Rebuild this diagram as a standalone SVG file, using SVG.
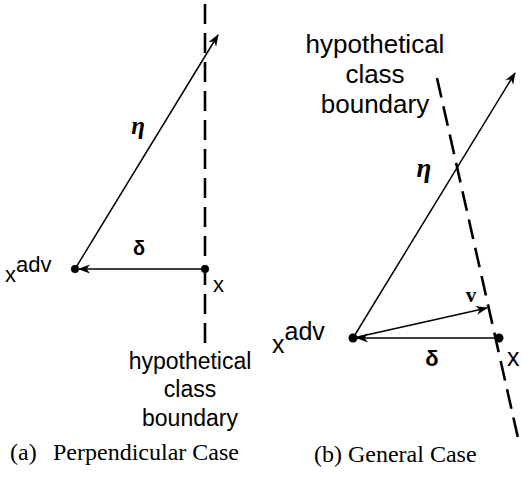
<svg xmlns="http://www.w3.org/2000/svg" width="522" height="483" viewBox="0 0 522 483">
<style>
.sans{font-family:"Liberation Sans",Arial,sans-serif;fill:#000}
.serif{font-family:"Liberation Serif","Times New Roman",serif;fill:#000}
.vec{stroke:#000;stroke-width:1.5;fill:none;marker-end:url(#ah)}
.dash{stroke:#000;stroke-width:2.6;fill:none;stroke-dasharray:20 9}
.dot{fill:#000}
</style>
<defs>
<marker id="ah" viewBox="0 0 12 10" refX="11" refY="5" markerWidth="12" markerHeight="10" markerUnits="userSpaceOnUse" orient="auto">
<path d="M0,0.5 L12,5 L0,9.5 L3.5,5 Z" fill="#000"/>
</marker>
</defs>
<g id="connectors">
<line class="dash" x1="205" y1="4" x2="205" y2="343"/>
<line class="vec" x1="75" y1="269" x2="218" y2="35"/>
<line class="vec" x1="205" y1="269" x2="79" y2="269"/>
<line class="dash" x1="437" y1="78" x2="518" y2="438"/>
<line class="vec" x1="353" y1="338" x2="515" y2="73"/>
<line class="vec" x1="353" y1="338" x2="487" y2="308"/>
<line class="vec" x1="499" y1="338" x2="357" y2="338"/>
</g>
<g id="node-a-xadv">
<circle class="dot" cx="75" cy="269" r="4"/>
<text class="sans" x="5" y="282" font-size="22">x<tspan dy="-10">adv</tspan></text>
</g>
<g id="node-a-x">
<circle class="dot" cx="205" cy="269" r="4"/>
<text class="sans" x="213" y="292" font-size="22">x</text>
</g>
<g id="labels-a">
<text class="serif" x="138" y="134" font-size="25" font-weight="bold" font-style="italic" text-anchor="middle">η</text>
<text class="sans" x="139" y="255" font-size="20" font-weight="bold" text-anchor="middle">δ</text>
<text class="sans" font-size="23" text-anchor="middle"><tspan x="190" y="369">hypothetical</tspan><tspan x="190" y="397">class</tspan><tspan x="190" y="426">boundary</tspan></text>
<text class="serif" x="10" y="460" font-size="24">(a)<tspan x="53">Perpendicular Case</tspan></text>
</g>
<g id="node-b-xadv">
<circle class="dot" cx="353" cy="338" r="4.5"/>
<text class="sans" x="272" y="353" font-size="25">x<tspan dy="-13">adv</tspan></text>
</g>
<g id="node-b-x">
<circle class="dot" cx="499" cy="338" r="4.5"/>
<text class="sans" x="507" y="366" font-size="25">x</text>
</g>
<g id="labels-b">
<text class="sans" font-size="26" text-anchor="middle"><tspan x="375" y="53">hypothetical</tspan><tspan x="375" y="83">class</tspan><tspan x="375" y="113">boundary</tspan></text>
<text class="serif" x="424" y="177" font-size="27" font-weight="bold" font-style="italic" text-anchor="middle">η</text>
<text class="serif" x="471" y="302" font-size="21" font-weight="bold" text-anchor="middle">v</text>
<text class="sans" x="432" y="366" font-size="22" font-weight="bold" text-anchor="middle">δ</text>
<text class="serif" x="314" y="462" font-size="24">(b) General Case</text>
</g>
</svg>
